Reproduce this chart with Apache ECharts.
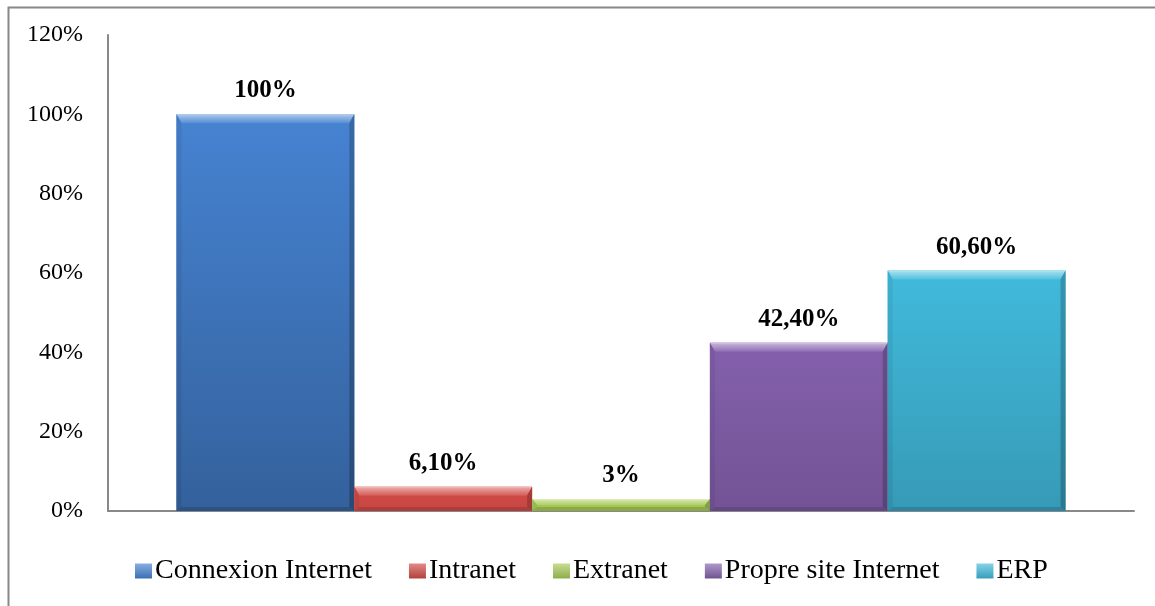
<!DOCTYPE html>
<html>
<head>
<meta charset="utf-8">
<script src="https://cdn.jsdelivr.net/npm/echarts@6/dist/echarts.min.js"></script>
<style>
  html, body { margin: 0; padding: 0; background: #ffffff; }
  #chart { width: 1155px; height: 606px; }
</style>
</head>
<body>
<div id="chart"></div>
<script>
// Technologies used (share of firms)
const seriesNames = ['Connexion Internet', 'Intranet', 'Extranet', 'Propre site Internet', 'ERP'];
const seriesValues = [100, 6.1, 3, 42.4, 60.6];
const seriesColors = ['#4683d2', '#d24b47', '#a8cb58', '#8460ac', '#41badc'];
const yMin = 0, yMax = 120, yStep = 20;

const FONT = '"Liberation Serif", "Times New Roman", serif';
const CATEGORY_GAP = 0.1335;

function mix(hex, target, t) {
  const n = parseInt(hex.slice(1), 16);
  const r = (n >> 16) & 255, g = (n >> 8) & 255, b = n & 255;
  const m = c => Math.round(c + (target - c) * t);
  return 'rgb(' + m(r) + ',' + m(g) + ',' + m(b) + ')';
}
const lighten = (h, t) => mix(h, 255, t);
const darken = (h, t) => mix(h, 0, t);
const vGrad = (a, b) => ({
  type: 'linear', x: 0, y: 0, x2: 0, y2: 1,
  colorStops: [{ offset: 0, color: a }, { offset: 1, color: b }]
});

function formatPct(v) {
  return Number.isInteger(v) ? v + '%' : v.toFixed(2).replace('.', ',') + '%';
}

// Bevelled bar: shaded body plus four edge facets, with its value label above
function renderBevelBar(params, api) {
  const i = params.seriesIndex;
  const v = api.value(1);
  const base = api.coord([api.value(0), 0]);
  const top = api.coord([api.value(0), v]);
  const band = api.size([1, 0])[0];
  const groupW = band * (1 - CATEGORY_GAP);
  const barW = groupW / seriesNames.length;
  const x0 = base[0] - groupW / 2 + i * barW;
  const x1 = x0 + barW;
  const y0 = top[1];
  const y1 = base[1];
  const h = y1 - y0;
  const c = seriesColors[i];
  // body darkens toward the baseline, more so for taller bars
  const depth = 0.22 * Math.min(1, h / 400) + 0.04;
  const cTop = c;
  const cBot = darken(c, depth);
  const bt = Math.min(9, h / 2);
  const bs = Math.min(5, h / 2);
  const bb = Math.min(4, h / 2);
  const poly = (pts, fill) => ({ type: 'polygon', shape: { points: pts }, style: { fill: fill } });
  return {
    type: 'group',
    children: [
      { type: 'rect', shape: { x: x0, y: y0, width: barW, height: h }, style: { fill: vGrad(cTop, cBot) } },
      poly([[x0, y0], [x1, y0], [x1 - bs, y0 + bt], [x0 + bs, y0 + bt]],
        vGrad(lighten(c, 0.55), lighten(c, 0.08))),
      poly([[x0, y0], [x0 + bs, y0 + bt], [x0 + bs, y1 - bb], [x0, y1]],
        vGrad(darken(c, 0.06), darken(c, depth + 0.06))),
      poly([[x1, y0], [x1 - bs, y0 + bt], [x1 - bs, y1 - bb], [x1, y1]],
        vGrad(darken(c, 0.2), darken(c, depth + 0.18))),
      poly([[x0, y1], [x0 + bs, y1 - bb], [x1 - bs, y1 - bb], [x1, y1]], darken(c, depth + 0.12)),
      { type: 'line', shape: { x1: x0 + 1, y1: y0 + 0.5, x2: x1 - 1, y2: y0 + 0.5 },
        style: { stroke: lighten(c, 0.6), lineWidth: 1 } },
      {
        type: 'text',
        style: {
          text: formatPct(v),
          x: (x0 + x1) / 2,
          y: y0 - 11,
          align: 'center',
          verticalAlign: 'bottom',
          font: 'bold 25px ' + FONT,
          fill: '#000000'
        }
      }
    ]
  };
}

const chart = echarts.init(document.getElementById('chart'), null, { renderer: 'canvas' });

chart.setOption({
  animation: false,
  backgroundColor: '#ffffff',
  graphic: [{
    type: 'rect',
    left: 6, top: 5,
    shape: { width: 1200, height: 700 },
    style: { fill: 'none', stroke: '#888888', lineWidth: 2 },
    silent: true
  }],
  grid: { left: 108, right: 21, top: 35, bottom: 95 },
  legend: {
    left: 130,
    top: 552,
    itemWidth: 17,
    itemHeight: 15,
    itemGap: 37,
    icon: 'rect',
    selectedMode: false,
    textStyle: { fontFamily: FONT, fontSize: 28, color: '#000000', padding: [0, 0, 0, -2] },
    data: seriesNames.map((name, i) => ({
      name: name,
      itemStyle: { color: vGrad(lighten(seriesColors[i], 0.35), darken(seriesColors[i], 0.15)) }
    }))
  },
  xAxis: {
    type: 'category',
    data: [''],
    axisLine: { lineStyle: { color: '#888888', width: 2 } },
    axisTick: { show: false },
    axisLabel: { show: false },
    splitLine: { show: false }
  },
  yAxis: {
    type: 'value',
    min: yMin,
    max: yMax,
    interval: yStep,
    axisLine: { show: true, lineStyle: { color: '#888888', width: 2 } },
    axisTick: { show: false },
    splitLine: { show: false },
    axisLabel: {
      formatter: '{value}%',
      fontFamily: FONT,
      fontSize: 24,
      color: '#000000',
      margin: 25
    }
  },
  series: seriesNames.map((name, i) => ({
    type: 'custom',
    name: name,
    color: seriesColors[i],
    renderItem: renderBevelBar,
    encode: { x: 0, y: 1 },
    data: [[0, seriesValues[i]]]
  }))
});
</script>
</body>
</html>
